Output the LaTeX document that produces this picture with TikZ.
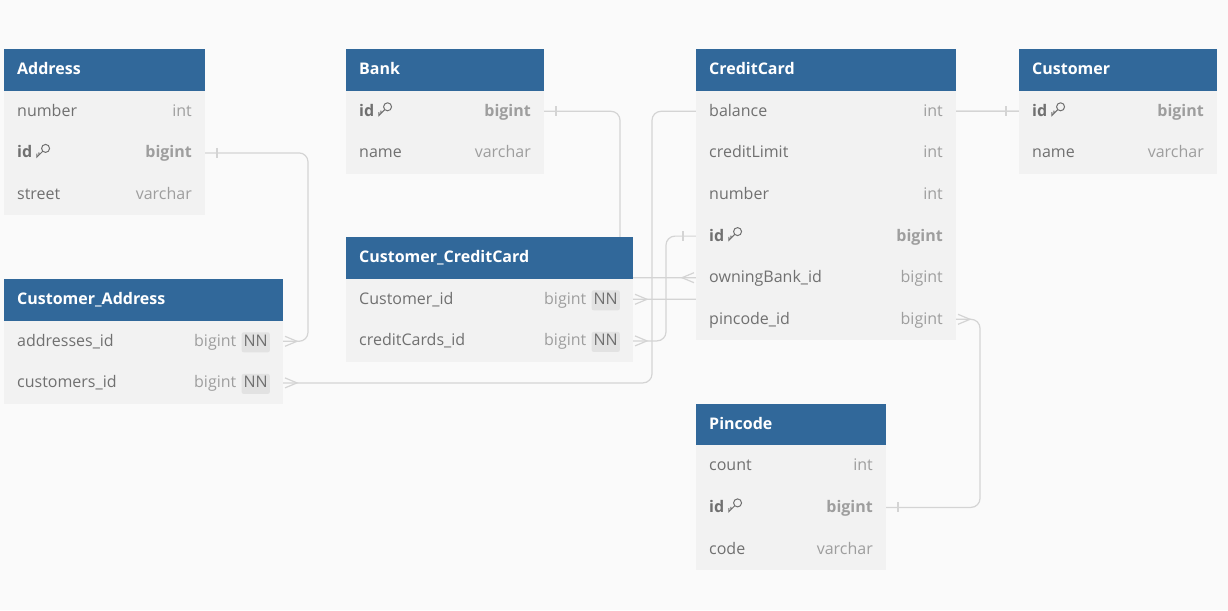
\documentclass[tikz,border=0pt]{standalone}
\usepackage{fontspec}
\setmainfont{Open Sans}
\usetikzlibrary{positioning,calc}
\definecolor{cHead}{HTML}{31689A}
\definecolor{cRow}{HTML}{F2F2F2}
\definecolor{cPage}{HTML}{FAFAFA}
\definecolor{cName}{HTML}{707070}
\definecolor{cType}{HTML}{9E9E9E}
\definecolor{cBadge}{HTML}{E2E2E2}
\definecolor{cEdge}{HTML}{D4D4D4}
\pgfdeclarelayer{bg}
\pgfdeclarelayer{edges}
\pgfsetlayers{bg,edges,main}
\newcommand{\rowfont}{\fontsize{16pt}{19pt}\selectfont}
\tikzset{
  hdr/.style   = {rectangle, fill=cHead, minimum height=41.5pt, inner sep=0pt,
                  outer sep=0pt, anchor=north west},
  ttl/.style   = {font=\rowfont\bfseries, text=white, inner sep=0pt,
                  text height=12pt, text depth=4pt, yshift=-1pt},
  frow/.style  = {rectangle, fill=cRow, minimum height=41.6pt, inner sep=0pt, outer sep=0pt},
  fname/.style = {font=\rowfont, text=cName, inner sep=0pt, text height=12pt, text depth=4pt,
                  yshift=-1pt},
  ftype/.style = {fname, text=cType},
  nn/.style    = {rectangle, rounded corners=2pt, fill=cBadge, text=cName, font=\rowfont,
                  inner xsep=2pt, inner ysep=2pt, text height=12pt, text depth=4pt, yshift=-1pt},
  edge/.style  = {draw=cEdge, line width=1.2pt, rounded corners=9pt},
  tick/.style  = {draw=cEdge, line width=1.2pt},
}
% table parts
\newcommand{\erhead}[5]{%
  \node[hdr, minimum width=#4] (#1) at (#2,#3) {};
  \node[ttl, right=13pt of #1.west] {#5};}
\newcommand{\erfield}[5]{%
  \node[frow, minimum width=#3, below=0pt of #2] (#1) {};
  \node[fname, right=13pt of #1.west] {#4};
  \node[ftype, left=13pt of #1.east] {#5};}
\newcommand{\erkey}[3]{%
  \node[frow, minimum width=#3, below=0pt of #2] (#1) {};
  \node[fname, font=\rowfont\bfseries, right=13pt of #1.west] {id \pkey};
  \node[ftype, font=\rowfont\bfseries, left=13pt of #1.east] {bigint};}
\newcommand{\ernn}[4]{%
  \node[frow, minimum width=#3, below=0pt of #2] (#1) {};
  \node[fname, right=13pt of #1.west] {#4};
  \node[nn, left=13pt of #1.east] (#1nn) {NN};
  \node[ftype, yshift=1pt, left=5pt of #1nn] {bigint};}
\newcommand{\pkey}{\tikz[baseline=-1pt, x=1pt, y=1pt, line width=1pt, cName]{%
  \draw (9.5,8.5) circle (4); \draw (6.7,5.7) -- (0.8,-0.2) -- (0.8,3.2) (2.8,1.8) -- (2.8,4.6);}}
% relation ends
\newcommand{\crowR}[1]{\draw[tick] ($(#1)+(2,-5)$) -- ($(#1)+(14,0)$) -- ($(#1)+(2,5)$);}
\newcommand{\crowL}[1]{\draw[tick] ($(#1)+(-2,-5)$) -- ($(#1)+(-14,0)$) -- ($(#1)+(-2,5)$);}
\newcommand{\barR}[1]{\draw[tick] ($(#1)+(12,-5)$) -- ($(#1)+(12,5)$);}
\newcommand{\barL}[1]{\draw[tick] ($(#1)+(-13,-5)$) -- ($(#1)+(-13,5)$);}

\begin{document}
\begin{tikzpicture}[x=1pt, y=-1pt]
  \begin{pgfonlayer}{bg}
    \fill[cPage] (0,0) rectangle (1228,610);
  \end{pgfonlayer}
  \useasboundingbox (0,0) rectangle (1228,610);

  % Address
  \erhead{adr}{4}{49}{201pt}{Address}
  \erfield{adrNum}{adr}{201pt}{number}{int}
  \erkey{adrId}{adrNum}{201pt}
  \erfield{adrStr}{adrId}{201pt}{street}{varchar}

  % Bank
  \erhead{bnk}{346}{49}{198pt}{Bank}
  \erkey{bnkId}{bnk}{198pt}
  \erfield{bnkName}{bnkId}{198pt}{name}{varchar}

  % CreditCard
  \erhead{crd}{696}{49}{260pt}{CreditCard}
  \erfield{crdBal}{crd}{260pt}{balance}{int}
  \erfield{crdLim}{crdBal}{260pt}{creditLimit}{int}
  \erfield{crdNum}{crdLim}{260pt}{number}{int}
  \erkey{crdId}{crdNum}{260pt}
  \erfield{crdBank}{crdId}{260pt}{owningBank\_id}{bigint}
  \erfield{crdPin}{crdBank}{260pt}{pincode\_id}{bigint}

  % Customer
  \erhead{cus}{1019}{49}{198pt}{Customer}
  \erkey{cusId}{cus}{198pt}
  \erfield{cusName}{cusId}{198pt}{name}{varchar}

  % Customer_CreditCard
  \erhead{ccc}{346}{237}{287pt}{Customer\_CreditCard}
  \ernn{cccCus}{ccc}{287pt}{Customer\_id}
  \ernn{cccCrd}{cccCus}{287pt}{creditCards\_id}

  % Customer_Address
  \erhead{cad}{4}{279}{279pt}{Customer\_Address}
  \ernn{cadAdr}{cad}{279pt}{addresses\_id}
  \ernn{cadCus}{cadAdr}{279pt}{customers\_id}

  % Pincode
  \erhead{pin}{696}{403.5}{190pt}{Pincode}
  \erfield{pinCnt}{pin}{190pt}{count}{int}
  \erkey{pinId}{pinCnt}{190pt}
  \erfield{pinCode}{pinId}{190pt}{code}{varchar}

  \begin{pgfonlayer}{edges}
    \draw[edge] (adrId.east) -- ++(103,0) |- (cadAdr.east);
    \draw[edge] (bnkId.east) -- ++(76,0) |- (crdBank.west);
    \draw[edge] (cusId.west) -- ($(crdBal.west)+(-44,0)$) |- (cadCus.east);
    \draw[edge] (cccCus.east) -- ++(290,0) |- (cusId.west);
    \draw[edge] (crdId.west) -- ++(-30,0) |- (cccCrd.east);
    \draw[edge] (crdPin.east) -- ++(24,0) |- (pinId.east);
    \barR{adrId.east}  \crowR{cadAdr.east}
    \barR{bnkId.east}  \crowL{crdBank.west}
    \barL{cusId.west}  \crowR{cadCus.east}
    \crowR{cccCus.east}
    \barL{crdId.west}  \crowR{cccCrd.east}
    \crowR{crdPin.east} \barR{pinId.east}
  \end{pgfonlayer}
\end{tikzpicture}
\end{document}
